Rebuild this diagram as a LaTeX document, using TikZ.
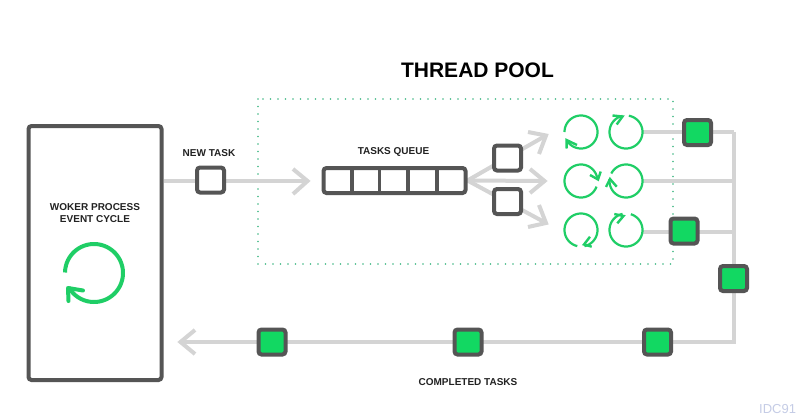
\documentclass[tikz,border=0pt]{standalone}
\usepackage{fontspec}
\setmainfont{Liberation Sans}
\usetikzlibrary{backgrounds}
\definecolor{edgegray}{HTML}{555555}
\definecolor{linegray}{HTML}{D4D4D4}
\definecolor{cyclegreen}{HTML}{1FCE66}
\definecolor{fillgreen}{HTML}{12D862}
\definecolor{dotgreen}{HTML}{3FB884}
\definecolor{inktext}{HTML}{222222}
\definecolor{markblue}{HTML}{C5CCE6}
\newcommand{\cyc}[5]{\draw[cycleline] plot[domain=#4:#5,samples=70] ({#1+#3*cos(\x)},{#2+#3*sin(\x)});}
\tikzset{
  x=1pt,y=-1pt,
  smallbox/.style={draw=edgegray,line width=4pt,rounded corners=3pt,fill=white,minimum width=27pt,minimum height=25pt,inner sep=0pt},
  donebox/.style={smallbox,fill=fillgreen},
  wire/.style={draw=linegray,line width=4pt},
  chevron/.style={wire,line join=miter},
  cycleline/.style={draw=cyclegreen,line width=2.2pt},
  bigcycle/.style={draw=cyclegreen,line width=4pt,line cap=round,line join=round},
  headline/.style={draw=cyclegreen,line width=2.4pt,line join=miter},
  caption/.style={text=inktext,font=\bfseries\fontsize{10}{12}\selectfont,align=center,inner sep=0pt}
}
\begin{document}
\begin{tikzpicture}
\useasboundingbox (0,0) rectangle (800,415);
% main boxes
\node[draw=edgegray,line width=4pt,rounded corners=3pt,fill=white,minimum width=133pt,minimum height=254pt,inner sep=0pt] (worker) at (95,253) {};
\node[smallbox] (newtask) at (210.5,180) {};
\node[draw=edgegray,line width=4pt,rounded corners=3pt,fill=white,minimum width=142pt,minimum height=25pt,inner sep=0pt] (queue) at (394.5,180.5) {};
\foreach \qx in {352,379.5,408,437}
  \draw[edgegray,line width=3.5pt] (\qx,0 |- queue.north) -- (\qx,0 |- queue.south);
\node[smallbox] (qa) at (507.5,158) {};
\node[smallbox] (qb) at (507.5,201.5) {};
\node[donebox] (da) at (697.5,132.5) {};
\node[donebox] (db) at (684,231) {};
\node[donebox] (dc) at (733.5,278.5) {};
\node[donebox] (dd) at (657.5,342) {};
\node[donebox] (de) at (468,342) {};
\node[donebox] (df) at (272,342) {};
% free ends of the connectors
\coordinate (newtip) at (307.5,181);
\coordinate (t1) at (546,135.5);
\coordinate (t2) at (544.5,181);
\coordinate (t3) at (546,223);
\coordinate (r1) at (643,132);
\coordinate (r2) at (643,181);
\coordinate (r3) at (643,232);
\coordinate (c1) at (733.5,132);
\coordinate (c2) at (733.5,181);
\coordinate (c3) at (733.5,232);
\coordinate (corner) at (733.5,342);
\coordinate (backtip) at (180.5,342);
\begin{scope}[on background layer]
  \fill[white] (0,0) rectangle (800,415);
  \draw[dotgreen,line width=1.6pt,line cap=round,dash pattern=on 0pt off 7.5pt] (258,99) rectangle (673,264);
  \draw[wire] (worker.east |- newtip) -- (newtip);
  \draw[chevron] (293,169) -- (newtip) -- (293,194);
  \draw[wire] (queue.east) -- (t1);
  \draw[chevron] (528,132) -- (t1) -- (539,154);
  \draw[wire] (queue.east) -- (t2);
  \draw[chevron] (530,169) -- (t2) -- (530,193);
  \draw[wire] (queue.east) -- (t3);
  \draw[chevron] (539,205) -- (t3) -- (528,227);
  \draw[wire] (r1) -- (c1);
  \draw[wire] (r2) -- (c2);
  \draw[wire] (r3) -- (c3);
  \draw[wire,line join=miter] (c1) -- (corner) -- (dd);
  \draw[wire] (dd) -- (backtip);
  \draw[chevron] (195,330) -- (backtip) -- (195,354);
\end{scope}
% big cycle
\draw[cyclegreen,line width=4pt] plot[domain=181:510,samples=90] ({94+29*cos(\x)},{273+29*sin(\x)});
\draw[bigcycle] (68.5,301) -- (68,288) -- (83,290.5);
% worker cycles
\cyc{581}{132}{16.5}{180}{510}
\draw[headline] (566.7,148.5) -- (566.5,140) -- (577,145);
\cyc{626}{132}{16.5}{280}{618}
\draw[headline] (612.5,115.5) -- (622.5,116.5) -- (616.7,124.5);
\cyc{581}{181}{16.5}{20}{354}
\draw[headline] (590,175) -- (598,179.5) -- (600.7,171.5);
\cyc{626}{181}{16.5}{207}{546}
\draw[headline] (606,187) -- (610,179) -- (616.7,186.7);
\cyc{581}{230}{16.5}{103}{438}
\draw[headline] (591.7,246.7) -- (584,244.5) -- (590,236.7);
\cyc{626}{230}{16.5}{287}{618}
\draw[headline] (614.3,214) -- (623.5,216) -- (617.3,223.3);
% texts
\node[text=black,font=\bfseries\fontsize{21}{24}\selectfont,inner sep=0pt] (title) at (477.5,70) {THREAD POOL};
\node[caption] (newlabel) at (209,153) {NEW TASK};
\node[caption] (queuelabel) at (393.5,152) {TASKS QUEUE};
\node[caption] (workerlabel) at (95,213) {WOKER PROCESS\\EVENT CYCLE};
\node[caption] (donelabel) at (468,382) {COMPLETED TASKS};
\node[text=markblue,font=\fontsize{13}{15}\selectfont,inner sep=0pt,anchor=west] (mark) at (759,409) {IDC91};
\end{tikzpicture}
\end{document}
